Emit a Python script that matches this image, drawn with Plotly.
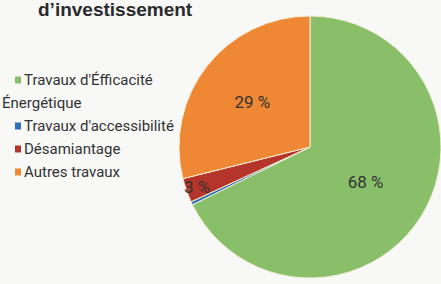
import plotly.graph_objects as go

W, H = 441, 284

title_text = "d’investissement"
labels = ["Travaux d'Éfficacité Énergétique", "Travaux d'accessibilité", "Désamiantage", "Autres travaux"]
values = [68, 0.4, 3, 29]
slice_text = ["68 %", "", "3 %", "29 %"]
colors = ["#8abf6a", "#2f6fb5", "#b5352b", "#ee8834"]
legend_lines = [["Travaux d'Éfficacité", "Énergétique"], ["Travaux d'accessibilité"], ["Désamiantage"], ["Autres travaux"]]

def px(x):
    return x / W

def py(y):
    return 1 - y / H

narrow = "Roboto, Liberation Sans, sans-serif"

fig = go.Figure()
fig.add_trace(go.Pie(
    labels=labels,
    values=values,
    text=slice_text,
    textinfo="text",
    textposition="inside",
    insidetextorientation="horizontal",
    sort=False,
    direction="clockwise",
    rotation=0,
    marker=dict(colors=colors, line=dict(color="#f3eed6", width=1)),
    textfont=dict(family=narrow, size=17, color="#333333"),
    domain=dict(x=[px(179), 1.0], y=[py(278), py(16)]),
    showlegend=False,
    hoverinfo="label+percent",
))

annotations = [dict(
    text="<b>" + title_text + "</b>", x=px(115), y=py(10), xref="paper", yref="paper",
    xanchor="center", yanchor="middle", showarrow=False,
    font=dict(family="Liberation Sans, Arial, sans-serif", size=19, color="#2b2b2b"),
)]
shapes = []
row_y = 80
row_step = 23
for color, lines in zip(colors, legend_lines):
    for j, line in enumerate(lines):
        if j == 0:
            shapes.append(dict(type="rect", xref="paper", yref="paper",
                               x0=px(15), x1=px(21), y0=py(row_y + 3.5), y1=py(row_y - 3.5),
                               fillcolor=color, line=dict(width=0)))
            x = 22
        else:
            x = 0
        annotations.append(dict(
            text=line, x=px(x), y=py(row_y), xref="paper", yref="paper",
            xanchor="left", yanchor="middle", showarrow=False,
            font=dict(family=narrow, size=15, color="#333333"),
        ))
        row_y += row_step

fig.update_layout(
    width=W, height=H,
    margin=dict(l=0, r=0, t=0, b=0),
    paper_bgcolor="#f8f8f7",
    plot_bgcolor="#f8f8f7",
    annotations=annotations,
    shapes=shapes,
    uniformtext=dict(minsize=16, mode="show"),
)

fig.write_html("out.html", config={"displayModeBar": False},
               post_script="document.body.style.margin='0';")
